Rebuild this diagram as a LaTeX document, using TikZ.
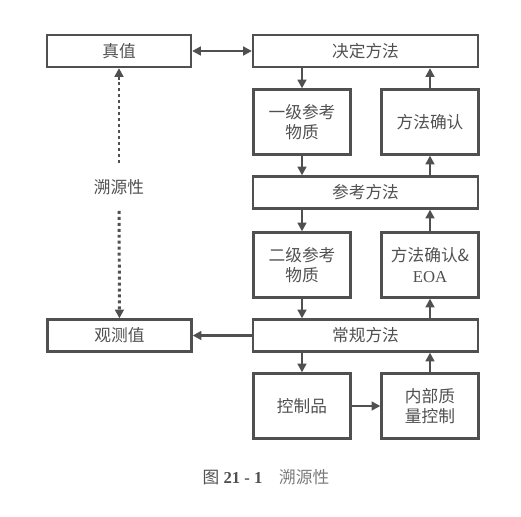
\documentclass[tikz,border=0pt]{standalone}
\usepackage{fontspec}
\setmainfont{Liberation Serif}
\newfontfamily\cjk{Noto Sans CJK SC}
\usetikzlibrary{arrows.meta}
\definecolor{ink}{HTML}{505050}
\definecolor{soft}{HTML}{7A7A7A}

\begin{document}
\begin{tikzpicture}[x=0.02cm,y=-0.02cm,
  box/.style={draw=ink,line width=1.3pt,text=ink,align=center,inner sep=0pt,
    font=\cjk\fontsize{9.5}{11.5}\selectfont},
  wide/.style={box,minimum width=4.5cm,minimum height=0.64cm},
  side/.style={box,minimum width=2.88cm,minimum height=0.64cm},
  tall/.style={box,minimum width=1.94cm,minimum height=1.3cm},
  tip/.style={Triangle[length=5pt,width=5pt]},
  flow/.style={draw=ink,line width=1.6pt,-{Triangle[length=5pt,width=5pt]}},
  trace/.style={draw=ink,line width=1.7pt,dash pattern=on 1.7pt off 1.7pt,
    -{Triangle[length=5pt,width=5pt]}}]
\useasboundingbox (0,0) rectangle (521,517);
% boxes
\node[side] (zhen)     at (119,51)    {真值};
\node[wide] (jueding)  at (365.5,51)  {决定方法};
\node[tall] (yiji)     at (302,122)   {一级参考\\物质};
\node[tall] (queren)   at (430,122)   {方法确认};
\node[wide] (cankao)   at (365.5,192.5) {参考方法};
\node[tall] (erji)     at (302,265)   {二级参考\\物质};
\node[tall] (eoa)      at (430,265)   {方法确认\&\\{\rmfamily EOA}};
\node[side] (guance)   at (119.5,335.5) {观测值};
\node[wide] (changgui) at (365.5,335.5) {常规方法};
\node[tall] (kongzhi)  at (302,406)   {控制品};
\node[tall] (neibu)    at (430,406)   {内部质\\量控制};
% label
\node[text=ink,font=\cjk\fontsize{9.5}{11.5}\selectfont,inner sep=9pt] (suyuan) at (119,187) {溯源性};
% caption
\node[text=ink,font=\fontsize{9.5}{11.5}\selectfont] (caption) at (266,477)
  {{\cjk 图} \textbf{21 - 1}\quad{\color{soft}\cjk 溯源性}};
% down column
\draw[flow] (yiji |- jueding.south) -- (yiji);
\draw[flow] (yiji) -- (yiji |- cankao.north);
\draw[flow] (erji |- cankao.south) -- (erji);
\draw[flow] (erji) -- (erji |- changgui.north);
\draw[flow] (kongzhi |- changgui.south) -- (kongzhi);
\draw[flow] (kongzhi) -- (neibu);
% up column
\draw[flow] (neibu) -- (neibu |- changgui.south);
\draw[flow] (eoa |- changgui.north) -- (eoa);
\draw[flow] (eoa) -- (eoa |- cankao.south);
\draw[flow] (queren |- cankao.north) -- (queren);
\draw[flow] (queren) -- (queren |- jueding.south);
% left side
\draw[flow] (changgui) -- (guance);
\draw[flow,{Triangle[length=5pt,width=5pt]}-{Triangle[length=5pt,width=5pt]}] (zhen) -- (jueding);
\draw[trace] (suyuan) -- (zhen);
\draw[trace] (suyuan) -- (guance);
\end{tikzpicture}
\end{document}
